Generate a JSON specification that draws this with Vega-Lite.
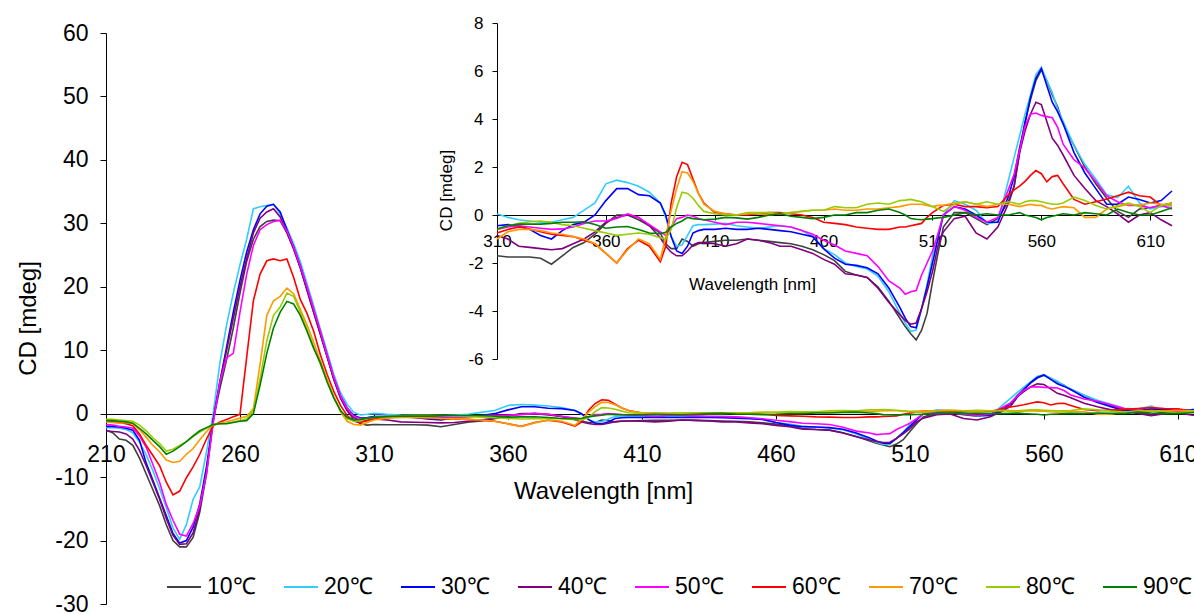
{
  "$schema": "https://vega.github.io/schema/vega-lite/v6.json",
  "width": 1088,
  "height": 571,
  "autosize": {"type": "none"},
  "padding": {"left": 106, "top": 33, "right": 0, "bottom": 10},
  "background": "white",
  "config": {
    "locale": {"number": {"decimal": ".", "thousands": ",", "grouping": [3], "currency": ["$", ""], "minus": "-"}},
    "view": {"stroke": null},
    "font": "Liberation Sans",
    "axis": {"grid": false, "domainColor": "black", "tickColor": "black", "labelColor": "black", "titleColor": "black", "titleFontWeight": "normal", "labelFont": "Liberation Sans", "titleFont": "Liberation Sans"},
    "legend": {"labelFont": "Liberation Sans", "labelColor": "black"}
  },
  "data": {"values": [
    {"w":210,"10℃":-2.6,"20℃":-2.2,"30℃":-2.0,"40℃":-2.7,"50℃":-1.7,"60℃":-1.3,"70℃":-1.3,"80℃":-0.9,"90℃":-1.1},
    {"w":212.5,"10℃":-3.0,"20℃":-2.2,"30℃":-2.0,"40℃":-2.8,"50℃":-1.8,"60℃":-1.3,"70℃":-1.4,"80℃":-0.9,"90℃":-1.1},
    {"w":215,"10℃":-4.0,"20℃":-2.3,"30℃":-2.1,"40℃":-2.9,"50℃":-2.0,"60℃":-1.4,"70℃":-1.5,"80℃":-1.0,"90℃":-1.2},
    {"w":217.5,"10℃":-4.2,"20℃":-2.5,"30℃":-2.3,"40℃":-3.2,"50℃":-2.1,"60℃":-1.6,"70℃":-1.4,"80℃":-1.1,"90℃":-1.3},
    {"w":220,"10℃":-5.0,"20℃":-3.0,"30℃":-2.6,"40℃":-4.0,"50℃":-2.3,"60℃":-1.9,"70℃":-1.6,"80℃":-1.2,"90℃":-1.5},
    {"w":222.5,"10℃":-7.0,"20℃":-4.5,"30℃":-4.2,"40℃":-5.8,"50℃":-3.5,"60℃":-3.2,"70℃":-2.5,"80℃":-1.8,"90℃":-2.3},
    {"w":225,"10℃":-9.5,"20℃":-6.5,"30℃":-7.8,"40℃":-8.2,"50℃":-5.3,"60℃":-5.0,"70℃":-3.7,"80℃":-2.7,"90℃":-3.2},
    {"w":227.5,"10℃":-12.0,"20℃":-9.0,"30℃":-10.5,"40℃":-10.8,"50℃":-8.0,"60℃":-6.6,"70℃":-5.0,"80℃":-3.8,"90℃":-4.2},
    {"w":230,"10℃":-14.5,"20℃":-11.8,"30℃":-13.3,"40℃":-13.5,"50℃":-10.8,"60℃":-8.2,"70℃":-6.0,"80℃":-4.7,"90℃":-5.2},
    {"w":232.5,"10℃":-17.5,"20℃":-14.8,"30℃":-16.1,"40℃":-16.5,"50℃":-14.3,"60℃":-10.8,"70℃":-7.3,"80℃":-5.9,"90℃":-6.4},
    {"w":235,"10℃":-20.0,"20℃":-18.0,"30℃":-18.9,"40℃":-19.2,"50℃":-16.8,"60℃":-12.8,"70℃":-7.7,"80℃":-5.6,"90℃":-5.9},
    {"w":237.5,"10℃":-21.0,"20℃":-19.8,"30℃":-20.4,"40℃":-20.6,"50℃":-19.0,"60℃":-12.2,"70℃":-7.5,"80℃":-5.0,"90℃":-5.2},
    {"w":240,"10℃":-21.0,"20℃":-17.5,"30℃":-20.0,"40℃":-20.5,"50℃":-19.3,"60℃":-10.1,"70℃":-6.4,"80℃":-4.4,"90℃":-4.4},
    {"w":242.5,"10℃":-19.5,"20℃":-13.5,"30℃":-17.9,"40℃":-18.8,"50℃":-17.3,"60℃":-8.4,"70℃":-5.5,"80℃":-3.6,"90℃":-3.5},
    {"w":245,"10℃":-15.5,"20℃":-11.5,"30℃":-14.2,"40℃":-15.0,"50℃":-14.5,"60℃":-6.4,"70℃":-4.1,"80℃":-2.9,"90℃":-2.7},
    {"w":247.5,"10℃":-9.5,"20℃":-6.0,"30℃":-8.4,"40℃":-9.0,"50℃":-9.5,"60℃":-4.0,"70℃":-2.8,"80℃":-2.3,"90℃":-2.2},
    {"w":250,"10℃":-1.0,"20℃":0.0,"30℃":-1.0,"40℃":-1.0,"50℃":-1.5,"60℃":-1.9,"70℃":-1.7,"80℃":-1.8,"90℃":-1.7},
    {"w":252.5,"10℃":4.0,"20℃":8.0,"30℃":5.0,"40℃":5.0,"50℃":5.0,"60℃":-1.3,"70℃":-1.5,"80℃":-1.6,"90℃":-1.6},
    {"w":255,"10℃":8.5,"20℃":14.0,"30℃":10.5,"40℃":10.0,"50℃":8.8,"60℃":-0.9,"70℃":-1.3,"80℃":-1.5,"90℃":-1.6},
    {"w":257.5,"10℃":13.5,"20℃":19.0,"30℃":16.0,"40℃":15.0,"50℃":9.5,"60℃":-0.5,"70℃":-1.0,"80℃":-1.3,"90℃":-1.4},
    {"w":260,"10℃":19.0,"20℃":23.5,"30℃":21.0,"40℃":20.0,"50℃":16.0,"60℃":-0.1,"70℃":-0.7,"80℃":-1.1,"90℃":-1.2},
    {"w":262.5,"10℃":24.0,"20℃":27.5,"30℃":25.5,"40℃":24.5,"50℃":22.0,"60℃":8.9,"70℃":-0.4,"80℃":-0.8,"90℃":-1.1},
    {"w":265,"10℃":27.5,"20℃":32.3,"30℃":29.0,"40℃":28.5,"50℃":26.5,"60℃":17.8,"70℃":0.8,"80℃":0.5,"90℃":0.0},
    {"w":267.5,"10℃":29.5,"20℃":32.6,"30℃":31.5,"40℃":30.8,"50℃":29.0,"60℃":22.0,"70℃":7.8,"80℃":5.5,"90℃":4.5},
    {"w":270,"10℃":30.3,"20℃":32.8,"30℃":32.7,"40℃":31.8,"50℃":29.8,"60℃":24.1,"70℃":15.5,"80℃":11.5,"90℃":9.5},
    {"w":272.5,"10℃":30.5,"20℃":33.0,"30℃":33.0,"40℃":32.3,"50℃":30.3,"60℃":24.4,"70℃":17.8,"80℃":15.5,"90℃":13.5},
    {"w":275,"10℃":30.4,"20℃":31.5,"30℃":31.8,"40℃":31.0,"50℃":30.5,"60℃":24.1,"70℃":18.5,"80℃":16.8,"90℃":16.0},
    {"w":277.5,"10℃":28.5,"20℃":29.3,"30℃":29.0,"40℃":28.6,"50℃":28.8,"60℃":24.4,"70℃":19.8,"80℃":19.0,"90℃":17.7},
    {"w":280,"10℃":26.0,"20℃":26.8,"30℃":26.3,"40℃":26.0,"50℃":26.3,"60℃":21.5,"70℃":18.9,"80℃":18.5,"90℃":17.3},
    {"w":282.5,"10℃":23.0,"20℃":24.0,"30℃":23.3,"40℃":23.0,"50℃":23.3,"60℃":18.0,"70℃":16.5,"80℃":16.0,"90℃":15.5},
    {"w":285,"10℃":19.5,"20℃":20.5,"30℃":19.8,"40℃":19.5,"50℃":20.0,"60℃":15.8,"70℃":14.0,"80℃":13.3,"90℃":13.0},
    {"w":287.5,"10℃":16.0,"20℃":17.0,"30℃":16.3,"40℃":16.0,"50℃":16.5,"60℃":13.0,"70℃":11.2,"80℃":10.5,"90℃":10.3},
    {"w":290,"10℃":12.5,"20℃":13.3,"30℃":12.8,"40℃":12.5,"50℃":13.0,"60℃":9.3,"70℃":8.3,"80℃":7.8,"90℃":8.0},
    {"w":292.5,"10℃":9.0,"20℃":9.8,"30℃":9.2,"40℃":9.0,"50℃":9.3,"60℃":6.2,"70℃":5.5,"80℃":5.2,"90℃":5.0},
    {"w":295,"10℃":5.5,"20℃":6.2,"30℃":5.6,"40℃":5.4,"50℃":5.8,"60℃":3.5,"70℃":2.7,"80℃":2.6,"90℃":2.5},
    {"w":297.5,"10℃":2.5,"20℃":3.3,"30℃":2.8,"40℃":2.5,"50℃":2.8,"60℃":1.3,"70℃":0.3,"80℃":0.5,"90℃":0.5},
    {"w":300,"10℃":0.5,"20℃":1.5,"30℃":0.9,"40℃":0.5,"50℃":0.8,"60℃":-0.3,"70℃":-1.2,"80℃":-0.8,"90℃":-0.6},
    {"w":302.5,"10℃":-1.0,"20℃":0.2,"30℃":-0.3,"40℃":-0.6,"50℃":-0.4,"60℃":-1.2,"70℃":-1.7,"80℃":-1.2,"90℃":-1.0},
    {"w":305,"10℃":-1.6,"20℃":-0.2,"30℃":-0.7,"40℃":-1.1,"50℃":-0.8,"60℃":-1.4,"70℃":-1.8,"80℃":-1.1,"90℃":-0.9},
    {"w":307.5,"10℃":-1.8,"20℃":-0.1,"30℃":-0.6,"40℃":-1.0,"50℃":-0.7,"60℃":-1.1,"70℃":-1.4,"80℃":-0.8,"90℃":-0.7},
    {"w":310,"10℃":-1.7,"20℃":0.05,"30℃":-0.45,"40℃":-0.85,"50℃":-0.6,"60℃":-0.75,"70℃":-1.0,"80℃":-0.6,"90℃":-0.58},
    {"w":315,"10℃":-1.75,"20℃":-0.1,"30℃":-0.4,"40℃":-1.0,"50℃":-0.5,"60℃":-0.6,"70℃":-0.7,"80℃":-0.45,"90℃":-0.45},
    {"w":320,"10℃":-1.75,"20℃":-0.2,"30℃":-0.45,"40℃":-1.3,"50℃":-0.45,"60℃":-0.5,"70℃":-0.6,"80℃":-0.35,"90℃":-0.38},
    {"w":325,"10℃":-1.75,"20℃":-0.25,"30℃":-0.6,"40℃":-1.35,"50℃":-0.5,"60℃":-0.58,"70℃":-0.6,"80℃":-0.28,"90℃":-0.38},
    {"w":330,"10℃":-1.8,"20℃":-0.3,"30℃":-0.85,"40℃":-1.4,"50℃":-0.55,"60℃":-0.7,"70℃":-0.65,"80℃":-0.25,"90℃":-0.38},
    {"w":335,"10℃":-2.05,"20℃":-0.3,"30℃":-1.0,"40℃":-1.45,"50℃":-0.6,"60℃":-0.8,"70℃":-0.75,"80℃":-0.3,"90℃":-0.35},
    {"w":340,"10℃":-1.7,"20℃":-0.2,"30℃":-0.65,"40℃":-1.4,"50℃":-0.58,"60℃":-0.85,"70℃":-0.8,"80℃":-0.4,"90℃":-0.3},
    {"w":345,"10℃":-1.35,"20℃":-0.1,"30℃":-0.4,"40℃":-1.2,"50℃":-0.5,"60℃":-0.9,"70℃":-0.9,"80℃":-0.45,"90℃":-0.3},
    {"w":350,"10℃":-1.15,"20℃":0.2,"30℃":-0.3,"40℃":-1.0,"50℃":-0.35,"60℃":-1.05,"70℃":-1.0,"80℃":-0.55,"90℃":-0.28},
    {"w":355,"10℃":-0.8,"20℃":0.5,"30℃":0.0,"40℃":-0.7,"50℃":-0.25,"60℃":-1.2,"70℃":-1.2,"80℃":-0.65,"90℃":-0.4},
    {"w":360,"10℃":-0.35,"20℃":1.3,"30℃":0.6,"40℃":-0.3,"50℃":-0.25,"60℃":-1.6,"70℃":-1.6,"80℃":-0.75,"90℃":-0.55},
    {"w":365,"10℃":0.0,"20℃":1.45,"30℃":1.1,"40℃":-0.1,"50℃":-0.15,"60℃":-2.0,"70℃":-2.0,"80℃":-0.85,"90℃":-0.5},
    {"w":370,"10℃":0.0,"20℃":1.35,"30℃":1.1,"40℃":0.0,"50℃":0.05,"60℃":-1.4,"70℃":-1.45,"80℃":-0.8,"90℃":-0.48},
    {"w":375,"10℃":-0.2,"20℃":1.2,"30℃":0.85,"40℃":-0.1,"50℃":-0.1,"60℃":-1.05,"70℃":-1.0,"80℃":-0.75,"90℃":-0.6},
    {"w":380,"10℃":-0.45,"20℃":0.95,"30℃":0.8,"40℃":-0.45,"50℃":-0.4,"60℃":-1.3,"70℃":-1.2,"80℃":-0.8,"90℃":-0.75},
    {"w":385,"10℃":-0.75,"20℃":0.5,"30℃":0.5,"40℃":-0.95,"50℃":-0.7,"60℃":-1.95,"70℃":-1.85,"80℃":-0.95,"90℃":-0.78},
    {"w":387.5,"10℃":-1.2,"20℃":-0.1,"30℃":0.0,"40℃":-1.3,"50℃":-0.85,"60℃":-1.3,"70℃":-0.9,"80℃":-1.0,"90℃":-0.72},
    {"w":390,"10℃":-1.4,"20℃":-0.9,"30℃":-0.9,"40℃":-1.55,"50℃":-0.5,"60℃":0.5,"70℃":0.2,"80℃":-0.6,"90℃":-0.5},
    {"w":392.5,"10℃":-1.4,"20℃":-1.3,"30℃":-1.5,"40℃":-1.7,"50℃":-0.15,"60℃":1.6,"70℃":1.1,"80℃":0.3,"90℃":-0.35},
    {"w":395,"10℃":-1.0,"20℃":-1.25,"30℃":-1.6,"40℃":-1.7,"50℃":-0.1,"60℃":2.2,"70℃":1.8,"80℃":0.95,"90℃":-0.25},
    {"w":397.5,"10℃":-1.1,"20℃":-0.85,"30℃":-1.3,"40℃":-1.5,"50℃":0.0,"60℃":2.1,"70℃":1.75,"80℃":0.9,"90℃":-0.1},
    {"w":400,"10℃":-1.3,"20℃":-0.45,"30℃":-0.75,"40℃":-1.25,"50℃":-0.05,"60℃":1.5,"70℃":1.4,"80℃":0.7,"90℃":-0.15},
    {"w":402.5,"10℃":-1.2,"20℃":-0.4,"30℃":-0.65,"40℃":-1.15,"50℃":-0.15,"60℃":0.9,"70℃":0.9,"80℃":0.4,"90℃":-0.18},
    {"w":405,"10℃":-1.15,"20℃":-0.4,"30℃":-0.6,"40℃":-1.15,"50℃":-0.2,"60℃":0.5,"70℃":0.45,"80℃":0.15,"90℃":-0.2},
    {"w":410,"10℃":-1.1,"20℃":-0.38,"30℃":-0.6,"40℃":-1.2,"50℃":-0.3,"60℃":0.1,"70℃":0.15,"80℃":0.05,"90℃":-0.17},
    {"w":415,"10℃":-1.05,"20℃":-0.35,"30℃":-0.55,"40℃":-1.3,"50℃":-0.4,"60℃":0.05,"70℃":0.05,"80℃":0.0,"90℃":-0.1},
    {"w":420,"10℃":-1.05,"20℃":-0.45,"30℃":-0.6,"40℃":-1.2,"50℃":-0.3,"60℃":0.0,"70℃":0.0,"80℃":0.0,"90℃":-0.12},
    {"w":425,"10℃":-1.0,"20℃":-0.5,"30℃":-0.6,"40℃":-1.0,"50℃":-0.3,"60℃":0.0,"70℃":0.05,"80℃":0.1,"90℃":-0.17},
    {"w":430,"10℃":-1.05,"20℃":-0.55,"30℃":-0.55,"40℃":-1.05,"50℃":-0.35,"60℃":0.05,"70℃":0.05,"80℃":0.1,"90℃":-0.1},
    {"w":435,"10℃":-1.1,"20℃":-0.5,"30℃":-0.6,"40℃":-1.15,"50℃":-0.4,"60℃":0.1,"70℃":0.0,"80℃":0.1,"90℃":0.0},
    {"w":440,"10℃":-1.15,"20℃":-0.45,"30℃":-0.65,"40℃":-1.3,"50℃":-0.45,"60℃":0.1,"70℃":0.05,"80℃":0.05,"90℃":0.05},
    {"w":445,"10℃":-1.2,"20℃":-0.5,"30℃":-0.7,"40℃":-1.3,"50℃":-0.5,"60℃":0.05,"70℃":0.1,"80℃":0.1,"90℃":-0.05},
    {"w":450,"10℃":-1.3,"20℃":-0.65,"30℃":-0.8,"40℃":-1.45,"50℃":-0.65,"60℃":0.0,"70℃":0.15,"80℃":0.15,"90℃":-0.1},
    {"w":455,"10℃":-1.45,"20℃":-0.9,"30℃":-0.9,"40℃":-1.6,"50℃":-0.8,"60℃":-0.1,"70℃":0.2,"80℃":0.2,"90℃":-0.15},
    {"w":460,"10℃":-1.65,"20℃":-1.4,"30℃":-1.4,"40℃":-1.85,"50℃":-1.05,"60℃":-0.3,"70℃":0.2,"80℃":0.2,"90℃":-0.1},
    {"w":465,"10℃":-1.9,"20℃":-1.65,"30℃":-1.8,"40℃":-2.05,"50℃":-1.25,"60℃":-0.35,"70℃":0.25,"80℃":0.35,"90℃":0.0},
    {"w":470,"10℃":-2.35,"20℃":-2.0,"30℃":-2.05,"40℃":-2.45,"50℃":-1.5,"60℃":-0.4,"70℃":0.2,"80℃":0.3,"90℃":0.0},
    {"w":475,"10℃":-2.5,"20℃":-2.15,"30℃":-2.1,"40℃":-2.5,"50℃":-1.6,"60℃":-0.5,"70℃":0.2,"80℃":0.3,"90℃":0.1},
    {"w":480,"10℃":-2.6,"20℃":-2.25,"30℃":-2.2,"40℃":-2.6,"50℃":-1.7,"60℃":-0.55,"70℃":0.25,"80℃":0.45,"90℃":0.1},
    {"w":485,"10℃":-3.0,"20℃":-2.55,"30℃":-2.45,"40℃":-3.05,"50℃":-2.15,"60℃":-0.6,"70℃":0.25,"80℃":0.5,"90℃":0.2},
    {"w":490,"10℃":-3.6,"20℃":-3.2,"30℃":-3.05,"40℃":-3.65,"50℃":-2.75,"60℃":-0.6,"70℃":0.3,"80℃":0.45,"90℃":0.25},
    {"w":495,"10℃":-4.3,"20℃":-4.1,"30℃":-3.85,"40℃":-4.15,"50℃":-3.05,"60℃":-0.5,"70℃":0.35,"80℃":0.6,"90℃":0.1},
    {"w":497.5,"10℃":-4.65,"20℃":-4.5,"30℃":-4.3,"40℃":-4.4,"50℃":-3.3,"60℃":-0.5,"70℃":0.4,"80℃":0.62,"90℃":0.0},
    {"w":500,"10℃":-4.95,"20℃":-4.85,"30℃":-4.65,"40℃":-4.55,"50℃":-3.2,"60℃":-0.45,"70℃":0.45,"80℃":0.65,"90℃":-0.15},
    {"w":502.5,"10℃":-5.2,"20℃":-4.8,"30℃":-4.7,"40℃":-4.5,"50℃":-3.15,"60℃":-0.4,"70℃":0.45,"80℃":0.6,"90℃":-0.18},
    {"w":505,"10℃":-4.8,"20℃":-3.9,"30℃":-3.9,"40℃":-3.9,"50℃":-2.5,"60℃":-0.35,"70℃":0.45,"80℃":0.55,"90℃":-0.2},
    {"w":507.5,"10℃":-4.1,"20℃":-2.9,"30℃":-3.0,"40℃":-3.2,"50℃":-2.0,"60℃":-0.1,"70℃":0.4,"80℃":0.45,"90℃":-0.17},
    {"w":510,"10℃":-2.8,"20℃":-1.7,"30℃":-2.0,"40℃":-2.35,"50℃":-1.5,"60℃":0.1,"70℃":0.35,"80℃":0.35,"90℃":-0.15},
    {"w":512.5,"10℃":-1.6,"20℃":-0.8,"30℃":-1.0,"40℃":-1.3,"50℃":-0.8,"60℃":0.25,"70℃":0.4,"80℃":0.25,"90℃":-0.12},
    {"w":515,"10℃":-0.5,"20℃":0.0,"30℃":0.0,"40℃":-0.7,"50℃":0.0,"60℃":0.4,"70℃":0.4,"80℃":0.15,"90℃":-0.1},
    {"w":520,"10℃":0.1,"20℃":0.6,"30℃":0.35,"40℃":-0.15,"50℃":0.35,"60℃":0.45,"70℃":0.5,"80℃":0.45,"90℃":0.0},
    {"w":525,"10℃":0.1,"20℃":0.45,"30℃":0.25,"40℃":-0.05,"50℃":0.2,"60℃":0.35,"70℃":0.55,"80℃":0.55,"90℃":0.1},
    {"w":530,"10℃":-0.15,"20℃":0.2,"30℃":0.0,"40℃":-0.75,"50℃":-0.1,"60℃":0.35,"70℃":0.45,"80℃":0.45,"90℃":0.0},
    {"w":535,"10℃":-0.4,"20℃":-0.35,"30℃":-0.3,"40℃":-1.0,"50℃":-0.3,"60℃":0.3,"70℃":0.35,"80℃":0.55,"90℃":0.05},
    {"w":540,"10℃":-0.15,"20℃":-0.3,"30℃":-0.3,"40℃":-0.5,"50℃":-0.1,"60℃":0.35,"70℃":0.45,"80℃":0.45,"90℃":0.0},
    {"w":545,"10℃":0.6,"20℃":1.5,"30℃":0.8,"40℃":0.5,"50℃":1.1,"60℃":0.85,"70℃":0.45,"80℃":0.55,"90℃":0.0},
    {"w":547.5,"10℃":1.2,"20℃":2.4,"30℃":1.6,"40℃":1.2,"50℃":1.7,"60℃":1.05,"70℃":0.4,"80℃":0.5,"90℃":0.05},
    {"w":550,"10℃":2.6,"20℃":3.3,"30℃":2.8,"40℃":2.6,"50℃":2.7,"60℃":1.2,"70℃":0.35,"80℃":0.45,"90℃":0.1},
    {"w":552.5,"10℃":3.9,"20℃":4.2,"30℃":3.8,"40℃":3.5,"50℃":3.7,"60℃":1.4,"70℃":0.4,"80℃":0.55,"90℃":0.0},
    {"w":555,"10℃":4.8,"20℃":5.0,"30℃":4.9,"40℃":4.2,"50℃":4.2,"60℃":1.65,"70℃":0.45,"80℃":0.6,"90℃":-0.05},
    {"w":557.5,"10℃":5.6,"20℃":5.85,"30℃":5.7,"40℃":4.7,"50℃":4.25,"60℃":1.85,"70℃":0.4,"80℃":0.6,"90℃":-0.1},
    {"w":560,"10℃":6.05,"20℃":6.15,"30℃":6.1,"40℃":4.6,"50℃":4.15,"60℃":1.72,"70℃":0.4,"80℃":0.55,"90℃":-0.2},
    {"w":562.5,"10℃":5.6,"20℃":5.6,"30℃":5.4,"40℃":3.9,"50℃":4.1,"60℃":1.38,"70℃":0.3,"80℃":0.5,"90℃":-0.1},
    {"w":565,"10℃":5.0,"20℃":5.1,"30℃":4.7,"40℃":3.2,"50℃":4.05,"60℃":1.6,"70℃":0.25,"80℃":0.45,"90℃":-0.05},
    {"w":567.5,"10℃":4.5,"20℃":4.4,"30℃":4.3,"40℃":2.9,"50℃":3.65,"60℃":1.65,"70℃":0.3,"80℃":0.45,"90℃":0.0},
    {"w":570,"10℃":3.8,"20℃":3.9,"30℃":3.8,"40℃":2.5,"50℃":2.95,"60℃":1.3,"70℃":0.35,"80℃":0.5,"90℃":0.05},
    {"w":575,"10℃":2.9,"20℃":2.9,"30℃":2.6,"40℃":1.65,"50℃":2.3,"60℃":0.65,"70℃":0.3,"80℃":0.75,"90℃":0.0},
    {"w":580,"10℃":2.0,"20℃":2.1,"30℃":1.75,"40℃":1.1,"50℃":1.95,"60℃":0.45,"70℃":-0.1,"80℃":0.6,"90℃":0.1},
    {"w":585,"10℃":1.3,"20℃":1.5,"30℃":1.1,"40℃":0.6,"50℃":1.4,"60℃":0.55,"70℃":-0.1,"80℃":0.4,"90℃":0.05},
    {"w":590,"10℃":0.7,"20℃":0.85,"30℃":0.45,"40℃":0.35,"50℃":0.8,"60℃":0.67,"70℃":0.25,"80℃":0.25,"90℃":0.0},
    {"w":595,"10℃":0.15,"20℃":0.72,"30℃":0.45,"40℃":0.05,"50℃":0.55,"60℃":0.8,"70℃":0.35,"80℃":0.4,"90℃":0.25},
    {"w":600,"10℃":-0.1,"20℃":1.2,"30℃":0.75,"40℃":-0.3,"50℃":0.4,"60℃":0.95,"70℃":0.45,"80℃":0.5,"90℃":0.1},
    {"w":605,"10℃":0.25,"20℃":0.5,"30℃":0.65,"40℃":0.0,"50℃":0.4,"60℃":0.8,"70℃":0.4,"80℃":0.35,"90℃":0.0},
    {"w":610,"10℃":0.3,"20℃":0.25,"30℃":0.5,"40℃":0.1,"50℃":0.3,"60℃":0.75,"70℃":0.5,"80℃":0.1,"90℃":0.0},
    {"w":615,"10℃":0.4,"20℃":0.35,"30℃":0.6,"40℃":-0.2,"50℃":0.4,"60℃":0.4,"70℃":0.45,"80℃":0.4,"90℃":0.15},
    {"w":620,"10℃":0.4,"20℃":0.4,"30℃":1.0,"40℃":-0.45,"50℃":0.25,"60℃":0.5,"70℃":0.4,"80℃":0.5,"90℃":0.3}
  ]},
  "transform": [
    {"fold": ["10℃","20℃","30℃","40℃","50℃","60℃","70℃","80℃","90℃"], "as": ["T", "cd"]}
  ],
  "layer": [
    {
      "mark": {"type": "line", "strokeWidth": 1.6, "clip": true},
      "encoding": {
        "x": {"field": "w", "type": "quantitative",
          "scale": {"domain": [210, 616], "nice": false, "zero": false},
          "axis": {"orient": "bottom", "offset": -190, "values": [210,260,310,360,410,460,510,560,610], "tickSize": 5, "labelFontSize": 23, "labelBaseline": "middle", "labelPadding": 35, "labelFlush": false, "labelOverlap": false, "title": "Wavelength [nm]", "titleFontSize": 24, "titleX": 497, "titleY": 77, "titleBaseline": "middle", "titleAlign": "center"}},
        "y": {"field": "cd", "type": "quantitative",
          "scale": {"domain": [-30, 60], "nice": false, "zero": false},
          "axis": {"orient": "left", "values": [-30,-20,-10,0,10,20,30,40,50,60], "tickSize": 6, "labelPadding": 12, "labelFontSize": 23, "title": "CD [mdeg]", "titleFontSize": 24, "titleX": -78, "titleY": 285, "titleBaseline": "middle", "titleAlign": "center", "titleAngle": -90}},
        "color": {"field": "T", "type": "nominal",
          "scale": {"domain": ["10℃","20℃","30℃","40℃","50℃","60℃","70℃","80℃","90℃"], "range": ["#404040","#33ccff","#0000ff","#800080","#ff00ff","#ff0000","#ff9900","#99cc00","#008000"]},
          "legend": {"orient": "none", "legendX": 60, "legendY": 536, "direction": "horizontal", "columns": 9, "title": null, "symbolType": "stroke", "symbolSize": 1156, "symbolStrokeWidth": 2, "labelFontSize": 23, "labelOffset": 5, "columnPadding": 24, "padding": 0}}
      }
    },
    {
      "transform": [{"filter": {"field": "w", "gte": 310}}],
      "mark": {"type": "line", "strokeWidth": 1.6},
      "encoding": {
        "x": {"field": "w", "type": "quantitative",
          "scale": {"domain": [310, 620], "nice": false, "zero": false, "range": [391, 1066]},
          "axis": {"orient": "bottom", "offset": -389, "values": [310,360,410,460,510,560,610], "tickSize": 5, "labelFontSize": 17, "labelBaseline": "middle", "labelPadding": 21, "labelFlush": false, "labelOverlap": false, "title": "Wavelength [nm]", "titleFontSize": 17, "titleX": 646, "titleY": 69, "titleBaseline": "middle", "titleAlign": "center"}},
        "y": {"field": "cd", "type": "quantitative",
          "scale": {"domain": [-6, 8], "nice": false, "zero": false, "range": [326, -10]},
          "axis": {"orient": "left", "offset": -391, "values": [-6,-4,-2,0,2,4,6,8], "tickSize": 5, "labelPadding": 9, "labelFontSize": 17, "title": "CD [mdeg]", "titleFontSize": 17, "titleX": -51, "titleY": 157, "titleBaseline": "middle", "titleAlign": "center", "titleAngle": -90}},
        "color": {"field": "T", "type": "nominal", "legend": null}
      }
    }
  ],
  "resolve": {"scale": {"x": "independent", "y": "independent"}, "axis": {"x": "independent", "y": "independent"}}
}
